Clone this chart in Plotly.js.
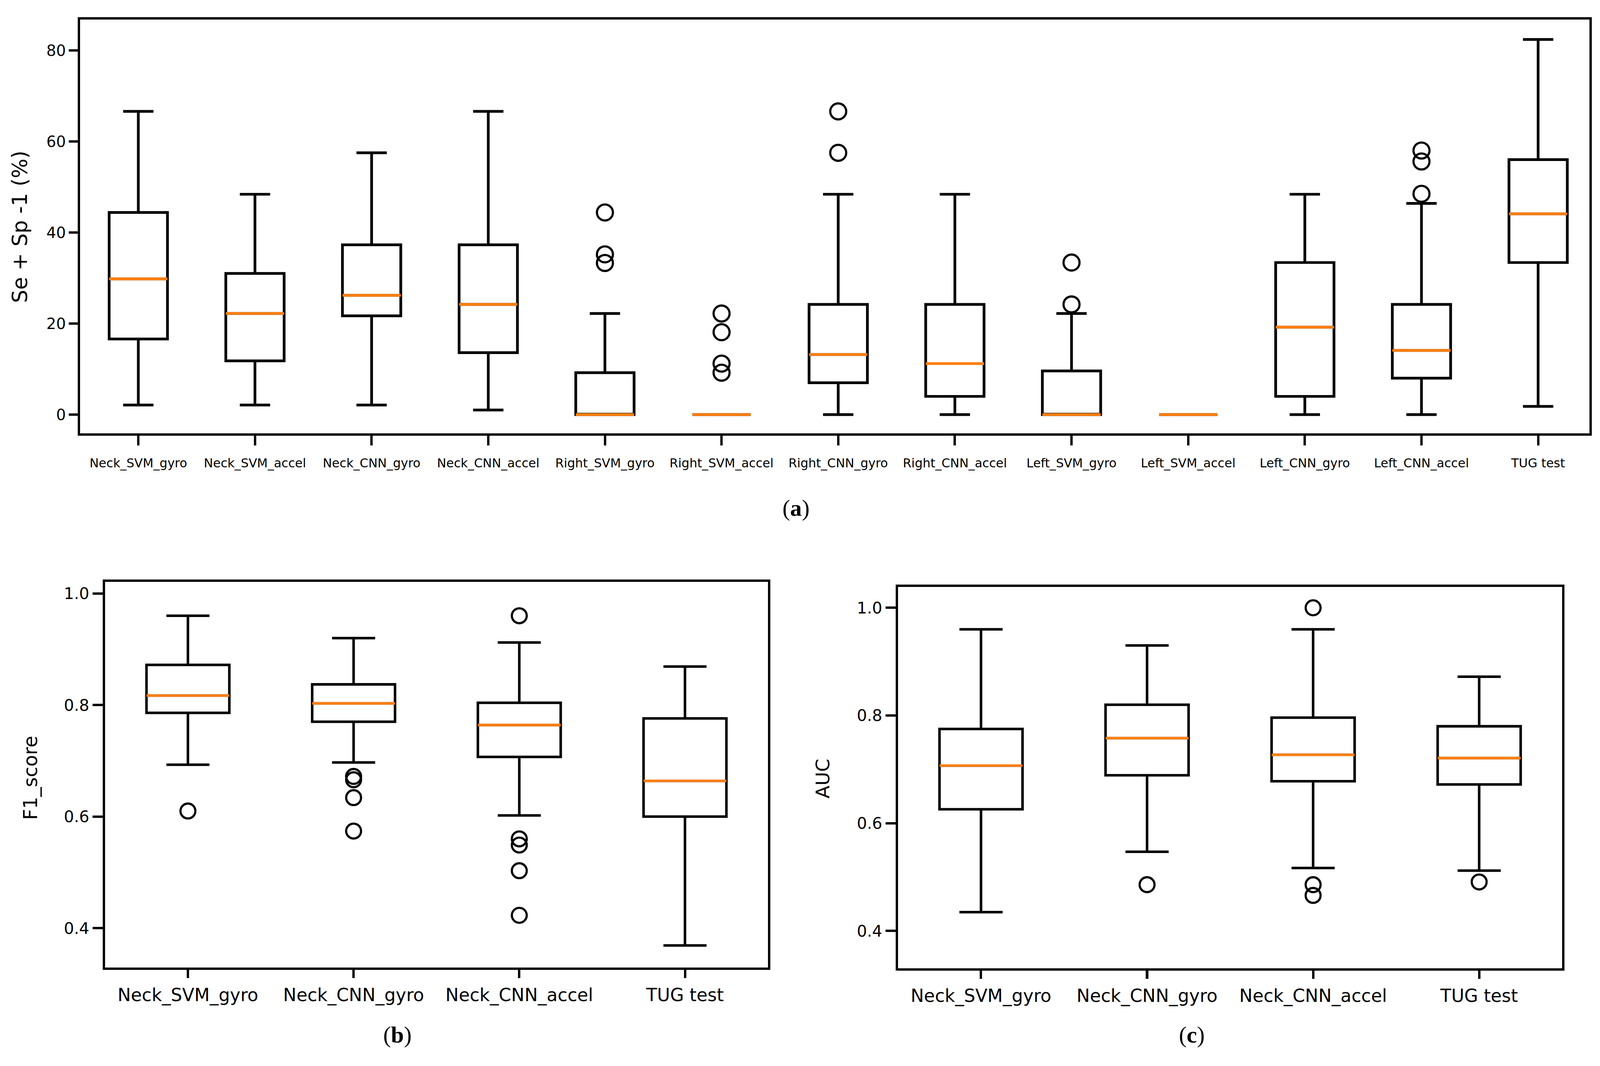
<!DOCTYPE html>
<html><head><meta charset="utf-8">
<script src="https://cdn.plot.ly/plotly-3.0.1.min.js"></script>
<style>html,body{margin:0;padding:0;background:#fff;overflow:hidden}#chart{width:100vw;height:100vh}</style>
</head><body><div id="chart"></div>
<script>
// ---------- Panel (a): Se + Sp - 1 (%) ----------
const catsA = ["Neck_SVM_gyro","Neck_SVM_accel","Neck_CNN_gyro","Neck_CNN_accel","Right_SVM_gyro","Right_SVM_accel","Right_CNN_gyro","Right_CNN_accel","Left_SVM_gyro","Left_SVM_accel","Left_CNN_gyro","Left_CNN_accel","TUG test"];
const aLower = [2.1, 2.1, 2.1, 1.0, 0, 0, 0, 0, 0, 0, 0, 0, 1.8];
const aQ1    = [16.6, 11.8, 21.7, 13.6, 0, 0, 7.0, 4.0, 0, 0, 4.0, 8.0, 33.4];
const aMed   = [29.8, 22.2, 26.2, 24.2, 0, 0, 13.2, 11.2, 0, 0, 19.2, 14.1, 44.1];
const aQ3    = [44.4, 31.0, 37.3, 37.3, 9.2, 0, 24.2, 24.2, 9.6, 0, 33.4, 24.2, 56.0];
const aUpper = [66.6, 48.4, 57.5, 66.6, 22.2, 0, 48.4, 48.4, 22.2, 0, 48.4, 46.4, 82.4];
const aOutCat = ["Right_SVM_gyro","Right_SVM_gyro","Right_SVM_gyro","Right_SVM_accel","Right_SVM_accel","Right_SVM_accel","Right_SVM_accel","Right_CNN_gyro","Right_CNN_gyro","Left_SVM_gyro","Left_SVM_gyro","Left_CNN_accel","Left_CNN_accel","Left_CNN_accel"];
const aOutVal = [44.4, 35.2, 33.3, 22.2, 18.1, 11.2, 9.2, 66.6, 57.5, 33.4, 24.2, 58.0, 55.6, 48.5];
const aTicks = [0, 20, 40, 60, 80];

// ---------- Panel (b): F1_score ----------
const catsBC = ["Neck_SVM_gyro","Neck_CNN_gyro","Neck_CNN_accel","TUG test"];
const bLower = [0.693, 0.697, 0.602, 0.369];
const bQ1    = [0.786, 0.770, 0.707, 0.600];
const bMed   = [0.817, 0.803, 0.764, 0.664];
const bQ3    = [0.872, 0.837, 0.804, 0.776];
const bUpper = [0.960, 0.920, 0.912, 0.869];
const bOutCat = ["Neck_SVM_gyro","Neck_CNN_gyro","Neck_CNN_gyro","Neck_CNN_gyro","Neck_CNN_gyro","Neck_CNN_accel","Neck_CNN_accel","Neck_CNN_accel","Neck_CNN_accel","Neck_CNN_accel"];
const bOutVal = [0.610, 0.672, 0.666, 0.634, 0.574, 0.960, 0.560, 0.549, 0.503, 0.423];

// ---------- Panel (c): AUC ----------
const cLower = [0.435, 0.547, 0.517, 0.512];
const cQ1    = [0.626, 0.689, 0.678, 0.672];
const cMed   = [0.707, 0.758, 0.727, 0.721];
const cQ3    = [0.775, 0.820, 0.796, 0.780];
const cUpper = [0.960, 0.930, 0.960, 0.872];
const cOutCat = ["Neck_CNN_gyro","Neck_CNN_accel","Neck_CNN_accel","Neck_CNN_accel","TUG test"];
const cOutVal = [0.486, 1.000, 0.486, 0.466, 0.491];
const bcTicks = [0.4, 0.6, 0.8, 1.0];
const bcTickText = ["0.4", "0.6", "0.8", "1.0"];

const ORANGE = "#ff7f0e";
const FONT = "DejaVu Sans, sans-serif";
const SERIF = "Liberation Serif, Times New Roman, serif";

const W = window.innerWidth || 4401;
const H = window.innerHeight || 2728;
const sx = W / 4401, sy = H / 2728;
const s = Math.min(sx, sy);
const px = v => v * s;      // generic sizes
const fx = v => v * sx;     // horizontal text
const fy = v => v * sy;     // rotated text / vertical lengths

function boxes(xa, ya, cats, lo, q1, med, q3, hi, lw) {
  return [
    { type: "box", xaxis: xa, yaxis: ya, x: cats, q1: q1, median: med, q3: q3,
      lowerfence: lo, upperfence: hi, boxpoints: false, width: 0.5, whiskerwidth: 0.52,
      line: { color: "black", width: px(lw) }, fillcolor: "rgba(0,0,0,0)", hoverinfo: "skip" },
    { type: "box", xaxis: xa, yaxis: ya, x: cats, q1: med, median: med, q3: med,
      lowerfence: med, upperfence: med, boxpoints: false, width: 0.5, whiskerwidth: 0,
      line: { color: ORANGE, width: px(lw) }, fillcolor: "rgba(0,0,0,0)", hoverinfo: "skip" }
  ];
}
function outliers(xa, ya, cats, vals, size) {
  return { type: "scatter", mode: "markers", xaxis: xa, yaxis: ya, x: cats, y: vals,
    marker: { symbol: "circle-open", size: px(size), color: "black", line: { width: px(6), color: "black" } },
    hoverinfo: "skip" };
}

const data = [].concat(
  boxes("x", "y", catsA, aLower, aQ1, aMed, aQ3, aUpper, 7.5),
  [outliers("x", "y", aOutCat, aOutVal, 44)],
  boxes("x2", "y2", catsBC, bLower, bQ1, bMed, bQ3, bUpper, 7),
  [outliers("x2", "y2", bOutCat, bOutVal, 41)],
  boxes("x3", "y3", catsBC, cLower, cQ1, cMed, cQ3, cUpper, 7),
  [outliers("x3", "y3", cOutCat, cOutVal, 41)]
);

function xax(dom, anchor, cats, range, fs, standoff, tl) {
  return { domain: dom, anchor: anchor, type: "category", categoryorder: "array", categoryarray: cats,
    range: range, showline: true, mirror: true, linecolor: "black", linewidth: px(6.5),
    ticks: "outside", ticklen: fy(tl), tickwidth: px(6.5), tickcolor: "black", ticklabelstandoff: fy(standoff),
    tickfont: { family: FONT, size: fx(fs), color: "black" }, showgrid: false, zeroline: false };
}
function yax(dom, anchor, range, tv, tt, fs, standoff, tl) {
  return { domain: dom, anchor: anchor, range: range, tickvals: tv, ticktext: tt,
    showline: true, mirror: true, linecolor: "black", linewidth: px(6.5),
    ticks: "outside", ticklen: fx(tl), tickwidth: px(6.5), tickcolor: "black", ticklabelstandoff: fx(standoff),
    tickfont: { family: FONT, size: fx(fs), color: "black" }, showgrid: false, zeroline: false };
}
function ann(text, x, y, size, family, angle) {
  return { text: text, xref: "paper", yref: "paper", x: x, y: y, xanchor: "center", yanchor: "middle",
    textangle: angle || 0, showarrow: false,
    font: { family: family, size: angle ? fy(size) : fx(size), color: "black" } };
}

const layout = {
  width: W, height: H, margin: { l: 0, r: 0, t: 0, b: 0 },
  paper_bgcolor: "white", plot_bgcolor: "white", showlegend: false, boxmode: "overlay",
  xaxis:  xax([0.04999, 0.99341], "y", catsA, [-0.5, 12.44], 34, 18, 25),
  yaxis:  yax([0.59348, 0.98167], "x", [-4.12, 86.78], aTicks, aTicks.map(String), 42, 25, 24),
  xaxis2: xax([0.06567, 0.47989], "y2", catsBC, [-0.5, 3.5], 49, 4, 21),
  yaxis2: yax([0.09238, 0.45418], "x2", [0.3294, 1.0208], bcTicks, bcTickText, 44, 35, 28),
  xaxis3: xax([0.56124, 0.97637], "y3", catsBC, [-0.5, 3.5], 49, 4, 21),
  yaxis3: yax([0.09164, 0.44941], "x3", [0.3307, 1.0387], bcTicks, bcTickText, 44, 35, 28),
  annotations: [
    ann("Se + Sp -1 (%)", 0.0125, 0.7874, 53, FONT, -90),
    ann("F1_score", 0.0191, 0.2705, 49, FONT, -90),
    ann("AUC", 0.5142, 0.2694, 48, FONT, -90),
    ann("(<b>a</b>)", 0.4974, 0.5235, 64, SERIF),
    ann("(<b>b</b>)", 0.2484, 0.0295, 64, SERIF),
    ann("(<b>c</b>)", 0.7448, 0.0295, 64, SERIF)
  ]
};

Plotly.newPlot("chart", data, layout, { staticPlot: true });
</script>
</body></html>
